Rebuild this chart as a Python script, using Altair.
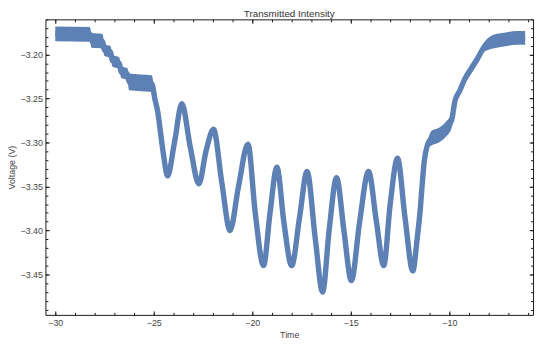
import altair as alt
import pandas as pd

# ---- data ----
time = [-30.0, -28.25, -28.15, -27.6, -27.5, -27.2, -27.1, -26.75, -26.65, -26.35,
        -26.25, -25.1, -24.95, -24.8, -24.65, -24.5, -24.3, -23.95, -23.575, -23.15,
        -22.71, -22.35, -21.97, -21.55, -21.13, -20.7, -20.22, -19.85, -19.43, -19.1,
        -18.75, -18.4, -18.0, -17.6, -17.22, -16.8, -16.43, -16.1, -15.72, -15.35,
        -14.97, -14.55, -14.1, -13.7, -13.33, -13.0, -12.63, -12.25, -11.85, -11.635,
        -11.47, -11.385, -11.265, -11.135, -10.9, -10.55, -10.215, -9.885, -9.715, -9.465,
        -9.215, -8.885, -8.55, -8.215, -7.715, -7.215, -6.55, -6.15]
voltage = [-3.1765, -3.177, -3.184, -3.185, -3.195, -3.197, -3.207, -3.21, -3.22, -3.222,
           -3.231, -3.233, -3.25, -3.265, -3.29, -3.315, -3.338, -3.30, -3.256, -3.305,
           -3.347, -3.31, -3.285, -3.345, -3.40, -3.35, -3.302, -3.38, -3.44, -3.38,
           -3.328, -3.39, -3.44, -3.385, -3.333, -3.41, -3.47, -3.40, -3.340, -3.40,
           -3.457, -3.39, -3.333, -3.39, -3.44, -3.37, -3.318, -3.385, -3.446, -3.41,
           -3.375, -3.35, -3.32, -3.305, -3.295, -3.292, -3.286, -3.275, -3.253, -3.241,
           -3.228, -3.216, -3.204, -3.191, -3.185, -3.183, -3.181, -3.181]
# half-height of the noisy band around the signal (V)
noise = [0.0084, 0.0084, 0.0084, 0.0084, 0.0067, 0.0067, 0.0067, 0.0067, 0.0067, 0.0067,
         0.0095, 0.0095, 0.004, 0.0, 0.0, 0.0, 0.0, 0.0, 0.0, 0.0,
         0.0, 0.0, 0.0, 0.0, 0.0, 0.0, 0.0, 0.0, 0.0, 0.0,
         0.0, 0.0, 0.0, 0.0, 0.0, 0.0, 0.0, 0.0, 0.0, 0.0,
         0.0, 0.0, 0.0, 0.0, 0.0, 0.0, 0.0, 0.0, 0.0, 0.0,
         0.0, 0.0, 0.0, 0.002, 0.0084, 0.0084, 0.0084, 0.0084, 0.0056, 0.0056,
         0.0056, 0.0056, 0.0056, 0.0056, 0.0078, 0.0078, 0.0078, 0.0078]

x_major = [-30, -25, -20, -15, -10]
x_minor = list(range(-30, -5))
y_major = [-3.45, -3.40, -3.35, -3.30, -3.25, -3.20]
y_minor = [round(-3.49 + 0.01 * i, 2) for i in range(34)]
title_text = ["Transmitted Intensity"]

df = pd.DataFrame({
    "t": time,
    "v": voltage,
    "lo": [v - n for v, n in zip(voltage, noise)],
    "hi": [v + n for v, n in zip(voltage, noise)],
})

COL = "#5E81B5"
FRAME = "#1a1a1a"
FONT = "Liberation Sans"
W, H = 495, 300

xs = alt.Scale(domain=[-30.5, -5.75], nice=False, zero=False)
ys = alt.Scale(domain=[-3.496, -3.160], nice=False, zero=False)


def tick_axis(orient, values, size):
    return alt.Axis(orient=orient, values=values, labels=False, domain=False,
                    ticks=True, tickSize=size, offset=-size, tickColor=FRAME,
                    tickWidth=1, grid=False, title=None)


def frame_axis(orient):
    return alt.Axis(orient=orient, values=[0], labels=False, ticks=False,
                    domain=True, domainColor=FRAME, domainWidth=1,
                    grid=False, title=None)


base = alt.Chart(df)

band = base.mark_area(color=COL, interpolate="monotone").encode(
    x=alt.X("t:Q", scale=xs, axis=alt.Axis(
        orient="bottom", values=x_major, format="d", title="Time",
        domain=True, domainColor=FRAME, domainWidth=1, ticks=False, tickSize=0,
        labelPadding=4, titlePadding=3, grid=False, labelFlush=False,
        labelOverlap=False)),
    y=alt.Y("lo:Q", scale=ys, axis=alt.Axis(
        orient="left", values=y_major, format=".2f", title="Voltage (V)",
        domain=True, domainColor=FRAME, domainWidth=1, ticks=False, tickSize=0,
        labelPadding=3, titlePadding=4, grid=False, labelFlush=False,
        labelOverlap=False)),
    y2="hi:Q",
)

line = base.mark_line(color=COL, strokeWidth=5.5, interpolate="monotone").encode(
    x=alt.X("t:Q", scale=xs, axis=tick_axis("bottom", x_major, 4)),
    y=alt.Y("v:Q", scale=ys, axis=tick_axis("left", y_major, 4)),
)

inv = base.mark_point(opacity=0, size=1)

l3 = inv.encode(
    x=alt.X("t:Q", scale=xs, axis=tick_axis("bottom", x_minor, 2.5)),
    y=alt.Y("v:Q", scale=ys, axis=tick_axis("left", y_minor, 2.5)),
)
l4 = inv.encode(
    x=alt.X("t:Q", scale=xs, axis=frame_axis("top")),
    y=alt.Y("v:Q", scale=ys, axis=frame_axis("right")),
)
l5 = inv.encode(
    x=alt.X("t:Q", scale=xs, axis=tick_axis("top", x_major, 4)),
    y=alt.Y("v:Q", scale=ys, axis=tick_axis("right", y_major, 4)),
)
l6 = inv.encode(
    x=alt.X("t:Q", scale=xs, axis=tick_axis("top", x_minor, 2.5)),
    y=alt.Y("v:Q", scale=ys, axis=tick_axis("right", y_minor, 2.5)),
)

title = alt.Chart(pd.DataFrame({"label": title_text})).mark_text(
    font=FONT, fontSize=10, color="#333333", align="center", baseline="alphabetic"
).encode(text="label:N", x=alt.value(W / 2), y=alt.value(-2))

chart = alt.layer(band, line, l3, l4, l5, l6, title).resolve_axis(
    x="independent", y="independent"
).properties(
    width=W,
    height=H,
    autosize=alt.AutoSizeParams(type="none"),
    padding={"left": 38, "top": 9, "right": 2, "bottom": 24},
).configure_view(stroke=None).configure_axis(
    labelFont=FONT, titleFont=FONT, labelFontSize=9, titleFontSize=9,
    labelColor="#444444", titleColor="#444444", titleFontWeight="normal",
)

chart.save("out.html", embed_options={"renderer": "svg", "actions": False})
